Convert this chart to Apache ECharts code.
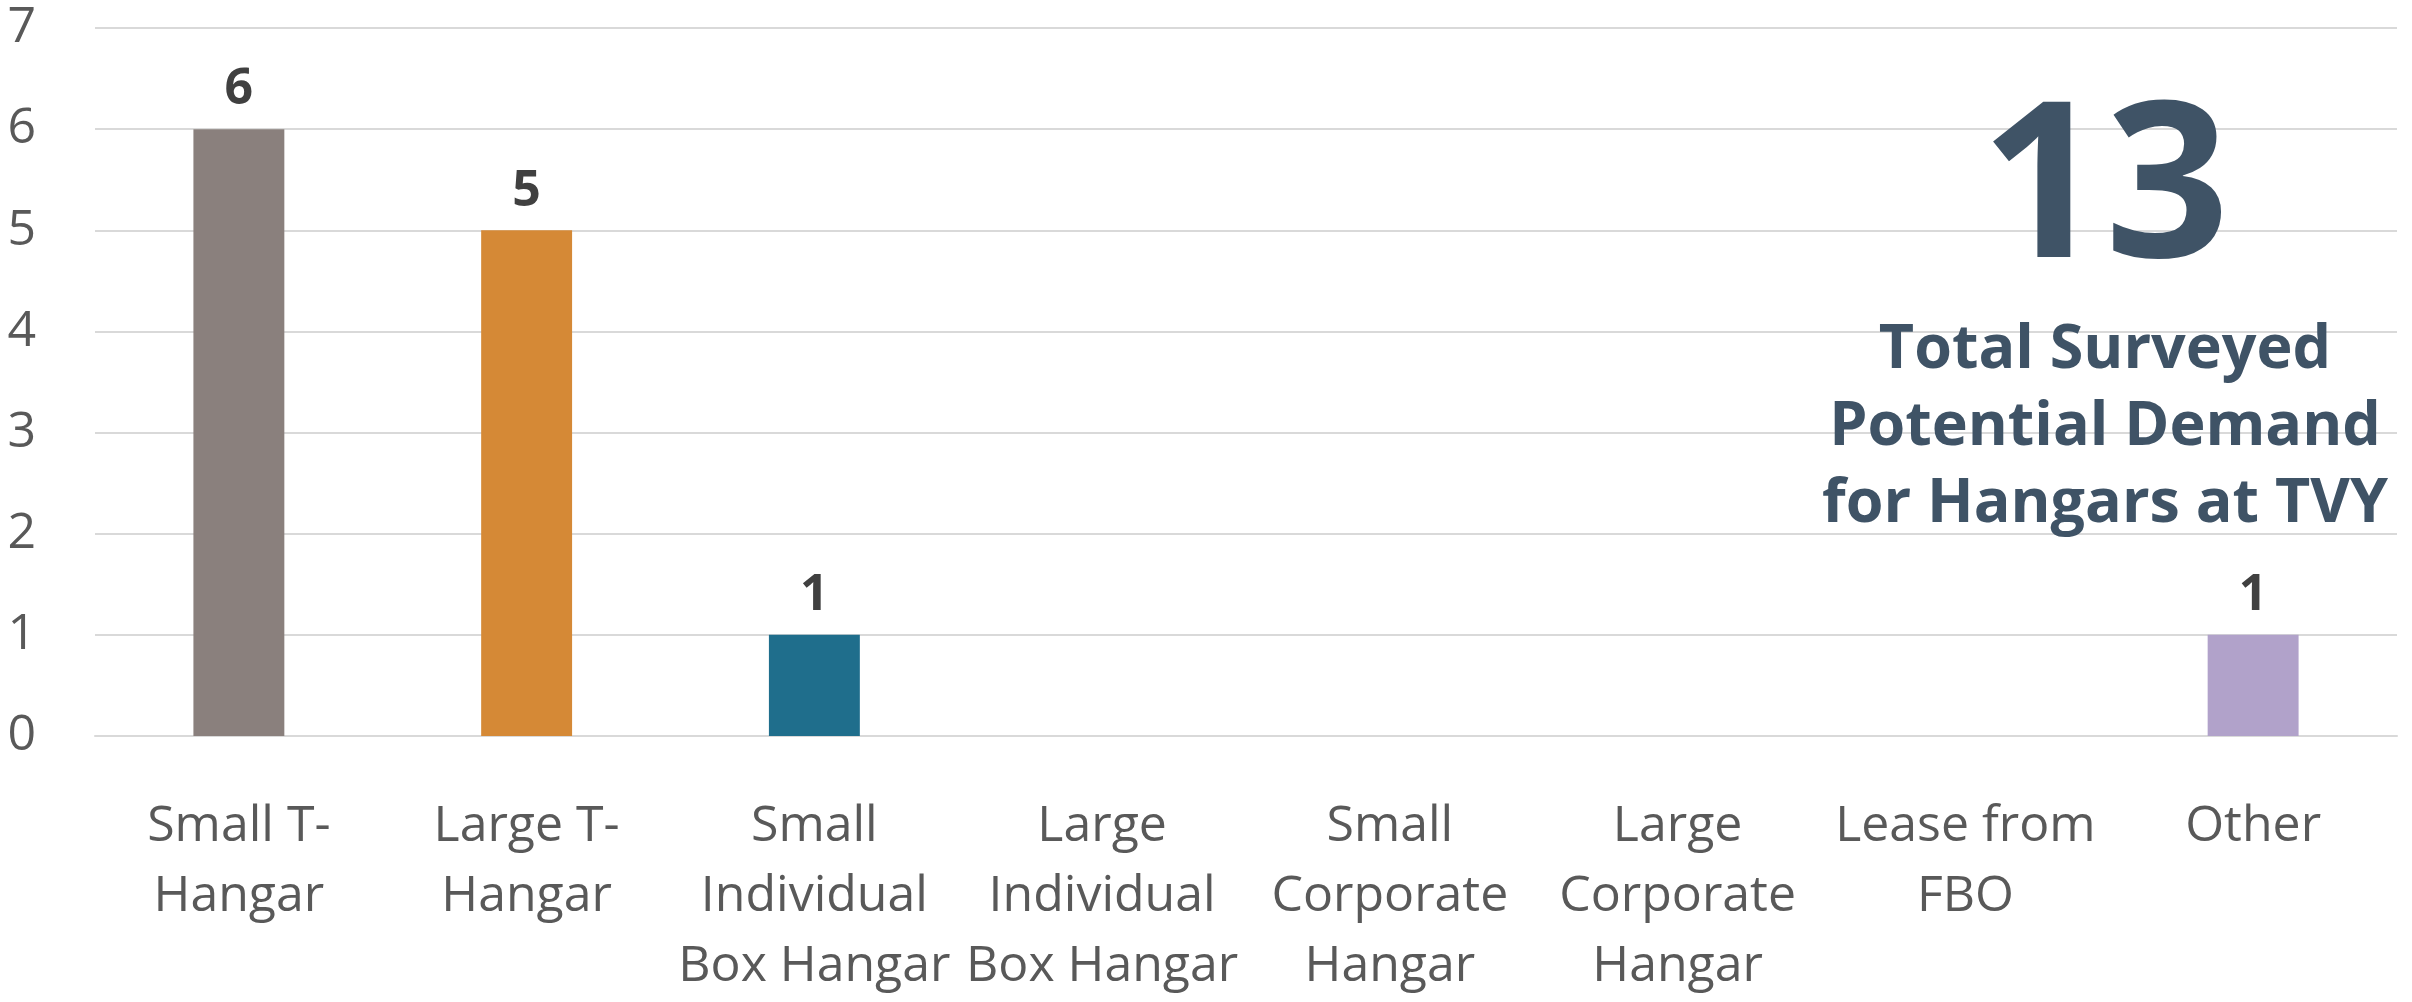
<!DOCTYPE html>
<html>
<head>
<meta charset="utf-8">
<script src="https://cdn.jsdelivr.net/npm/echarts@6/dist/echarts.min.js"></script>
<style>
html,body{margin:0;padding:0;background:#fff;}
#chart{width:2412px;height:1002px;}
</style>
</head>
<body>
<div id="chart"></div>
<script>
const categories = [
  "Small T-\nHangar",
  "Large T-\nHangar",
  "Small\nIndividual\nBox Hangar",
  "Large\nIndividual\nBox Hangar",
  "Small\nCorporate\nHangar",
  "Large\nCorporate\nHangar",
  "Lease from\nFBO",
  "Other"
];
const values = [6, 5, 1, 0, 0, 0, 0, 1];
const barColors = ["#8a807d", "#d58936", "#1f6e8c", "#8a807d", "#8a807d", "#8a807d", "#8a807d", "#b1a2ca"];
const yTicks = [0, 1, 2, 3, 4, 5, 6, 7];
const calloutLines = ["Total Surveyed", "Potential Demand", "for Hangars at TVY"];
const total = values.reduce((a, b) => a + b, 0);

const FONT = "'Open Sans', 'Noto Sans', sans-serif";
const chart = echarts.init(document.getElementById('chart'), null, {renderer: 'canvas'});
chart.setOption({
  animation: false,
  backgroundColor: '#ffffff',
  grid: {left: 95, right: 15, top: 28, bottom: 252, containLabel: false},
  xAxis: {
    type: 'category',
    data: categories,
    axisLine: {show: true, lineStyle: {color: '#d9d9d9', width: 2}},
    axisTick: {show: false},
    axisLabel: {
      interval: 0,
      color: '#595959',
      fontFamily: FONT,
      fontSize: 50,
      lineHeight: 70,
      margin: 56
    }
  },
  yAxis: {
    type: 'value',
    min: yTicks[0],
    max: yTicks[yTicks.length - 1],
    interval: 1,
    axisLine: {show: false},
    axisTick: {show: false},
    splitLine: {lineStyle: {color: '#d9d9d9', width: 2}},
    axisLabel: {
      color: '#595959',
      fontFamily: FONT,
      fontSize: 50,
      margin: 59
    }
  },
  series: [{
    type: 'bar',
    data: values.map((v, i) => ({value: v, itemStyle: {color: barColors[i]}})),
    barWidth: '31.6%',
    label: {
      show: true,
      position: 'top',
      distance: 14,
      color: '#404040',
      fontFamily: FONT,
      fontWeight: 'bold',
      fontSize: 50,
      formatter: p => p.value > 0 ? String(p.value) : ''
    }
  }],
  graphic: [
    {
      type: 'text',
      z: 100,
      style: {
        x: 2105,
        y: 195,
        text: String(total),
        fill: '#3f5366',
        font: "bold 218px 'Open Sans', 'Noto Sans', sans-serif",
        align: 'center',
        verticalAlign: 'middle'
      }
    },
    {
      type: 'text',
      z: 100,
      style: {
        x: 2105,
        y: 428,
        text: calloutLines.join('\n'),
        fill: '#3f5366',
        font: "bold 61px 'Open Sans', 'Noto Sans', sans-serif",
        lineHeight: 77,
        align: 'center',
        verticalAlign: 'middle'
      }
    }
  ]
});
</script>
</body>
</html>
